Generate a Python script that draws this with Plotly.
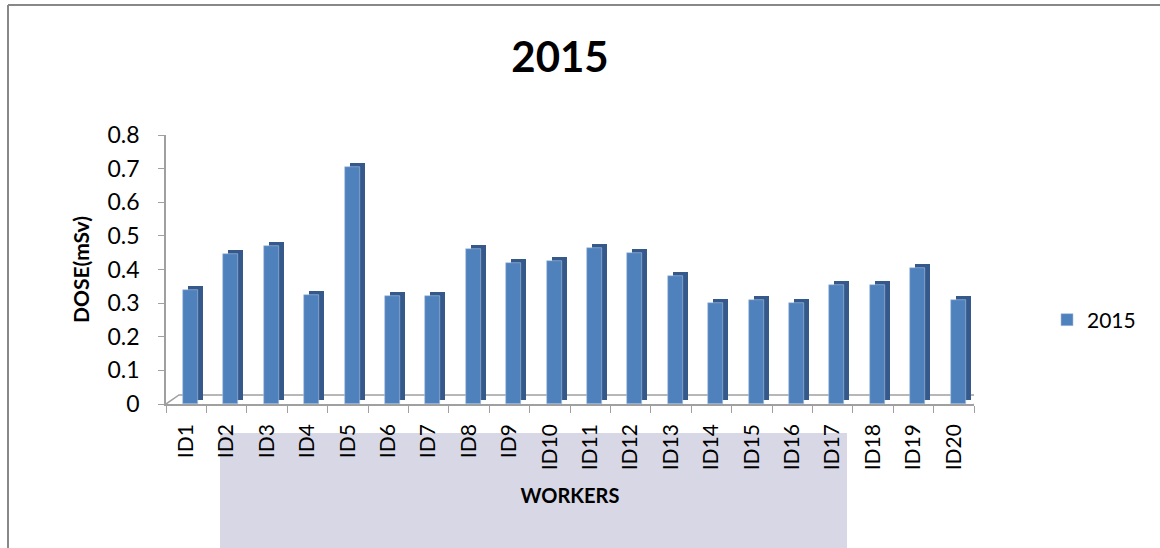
import plotly.graph_objects as go

categories = [f"ID{i}" for i in range(1, 21)]
dose_2015 = [0.34, 0.445, 0.47, 0.325, 0.705, 0.32, 0.32, 0.46, 0.42, 0.425,
             0.465, 0.45, 0.38, 0.30, 0.31, 0.30, 0.355, 0.355, 0.405, 0.31]
y_ticks = [0, 0.1, 0.2, 0.3, 0.4, 0.5, 0.6, 0.7, 0.8]
y_tick_labels = ["0", "0.1", "0.2", "0.3", "0.4", "0.5", "0.6", "0.7", "0.8"]

W, H = 1160, 548
ML, MR, MT, MB = 166, 186, 135, 144
PW, PH = W - ML - MR, H - MT - MB
YMAX = 0.8
NCAT = len(categories)

def px_x(p):  # pixel -> paper x
    return (p - ML) / PW

def px_y(p):  # pixel -> paper y
    return (H - MB - p) / PH

unit_x = PW / NCAT          # pixels per category
unit_y = PH / YMAX          # pixels per value unit
dx = 5 / unit_x             # 3D depth offset (x) in category units
dy = 4 / unit_y             # 3D depth offset (y) in value units

FONT = "Lato, 'Open Sans', sans-serif"
FRONT = "#4f81bd"
SIDE = "#34598a"

fig = go.Figure()
# depth (side/top) face
fig.add_trace(go.Bar(
    x=categories, y=dose_2015, base=[dy] * NCAT,
    width=0.37, offset=-0.08 + dx,
    marker=dict(color=SIDE, line=dict(width=0)),
    showlegend=False, hoverinfo="skip",
))
# front face
fig.add_trace(go.Bar(
    x=categories, y=dose_2015, name="2015",
    width=0.37, offset=-0.08,
    marker=dict(color=FRONT, line=dict(width=0.6, color="#a9c1e0")),
))

shapes = []
# watermark-like light band at bottom
shapes.append(dict(type="rect", xref="paper", yref="paper",
                   x0=px_x(220), x1=px_x(847), y0=px_y(433), y1=px_y(548),
                   fillcolor="#d7d7e5", line=dict(width=0), layer="below"))
# outer frame (left and top edges)
shapes.append(dict(type="line", xref="paper", yref="paper",
                   x0=px_x(8), x1=px_x(8), y0=px_y(5), y1=px_y(548),
                   line=dict(color="#888888", width=2)))
shapes.append(dict(type="line", xref="paper", yref="paper",
                   x0=px_x(8), x1=px_x(1160), y0=px_y(5), y1=px_y(5),
                   line=dict(color="#888888", width=2)))
# 3D floor back edges
fx = 13 / unit_x
fy = 9 / unit_y
shapes.append(dict(type="path", xref="x", yref="y",
                   path=f"M -0.5,0 L {-0.5 + fx},{fy} L {NCAT - 0.5 + fx},{fy} L {NCAT - 0.5},0",
                   line=dict(color="#a0a0a0", width=1.5), layer="below"))

fig.update_layout(
    width=W, height=H,
    margin=dict(l=ML, r=MR, t=MT, b=MB, pad=0),
    paper_bgcolor="white", plot_bgcolor="rgba(0,0,0,0)",
    barmode="overlay", bargap=0,
    font=dict(family=FONT, color="black"),
    title=dict(text="<b>2015</b>", x=560 / W, xanchor="center",
               y=1 - 57 / H, yanchor="middle",
               font=dict(size=42, family=FONT, color="black")),
    shapes=shapes,
    showlegend=True,
    legend=dict(x=px_x(1047), y=px_y(320), xanchor="left", yanchor="middle",
                font=dict(size=21, family=FONT, color="black"),
                bgcolor="rgba(0,0,0,0)", itemwidth=30),
    xaxis=dict(
        type="category", range=[-0.5, NCAT - 0.5],
        showline=True, linecolor="#a0a0a0", linewidth=1.5,
        ticks="outside", tickson="boundaries", ticklen=7, tickcolor="#a0a0a0",
        ticklabelstandoff=10,
        tickangle=-90, tickfont=dict(size=21, family=FONT, color="black"),
        showgrid=False, zeroline=False,
        title=dict(text="<b>WORKERS</b>", font=dict(size=20, family=FONT, color="black"),
                   standoff=20),
    ),
    yaxis=dict(
        range=[0, YMAX], tickvals=y_ticks, ticktext=y_tick_labels,
        showline=True, linecolor="#a0a0a0", linewidth=1.5,
        ticks="outside", ticklen=6, tickcolor="#a0a0a0",
        ticklabelstandoff=14,
        tickfont=dict(size=23, family=FONT, color="black"),
        showgrid=False, zeroline=False,
        title=dict(text="<b>DOSE(mSv)</b>", font=dict(size=21, family=FONT, color="black"),
                   standoff=12),
    ),
)

fig.write_html("out.html", config={"displayModeBar": False},
               post_script="document.body.style.margin='0';document.body.style.padding='0';")
